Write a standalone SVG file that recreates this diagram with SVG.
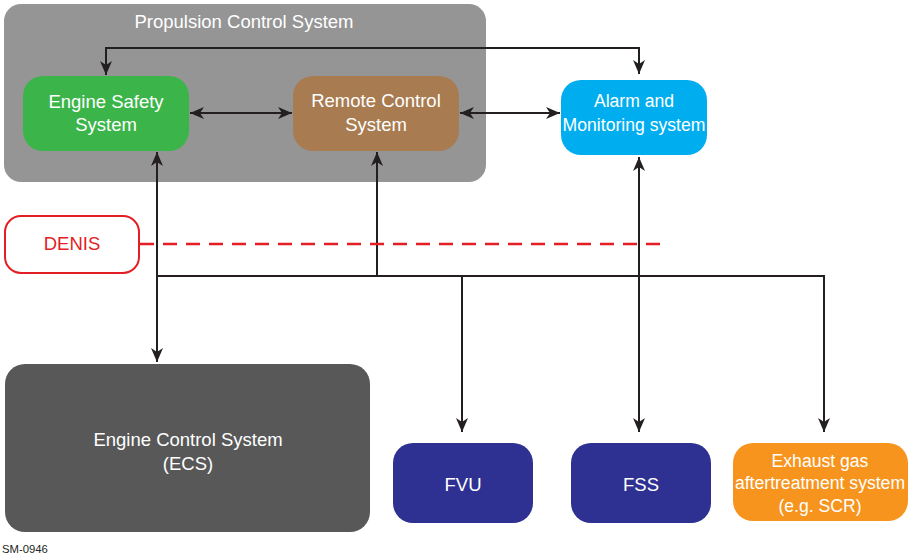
<svg xmlns="http://www.w3.org/2000/svg" width="910" height="556" viewBox="0 0 910 556">
<style>
.t{font-family:"Liberation Sans",Arial,sans-serif;font-size:18.5px;fill:#ffffff;text-anchor:middle}
.s{font-size:17.6px}
.c{fill:none;stroke:#231f20;stroke-width:2}
</style>
<defs>
<marker id="ah" viewBox="0 0 14 12" refX="14" refY="6" markerWidth="14" markerHeight="12" markerUnits="userSpaceOnUse" orient="auto-start-reverse">
<path d="M0,0 L14,6 L0,12 L4,6 z" fill="#231f20"/>
</marker>
</defs>
<rect width="910" height="556" fill="#ffffff"/>
<g id="propulsion">
<rect x="4" y="4" width="482" height="178" rx="17" fill="#959595"/>
<text class="t" x="244" y="28">Propulsion Control System</text>
</g>
<g id="ess">
<rect x="23" y="76" width="166" height="75" rx="20" fill="#3bb54a"/>
<text class="t" x="106" y="108">Engine Safety</text>
<text class="t" x="106" y="131">System</text>
</g>
<g id="rcs">
<rect x="293" y="76" width="166" height="75" rx="20" fill="#a87b50"/>
<text class="t" x="376" y="107">Remote Control</text>
<text class="t" x="376" y="131">System</text>
</g>
<g id="ams">
<rect x="561" y="80" width="146" height="75" rx="20" fill="#00aeef"/>
<text class="t s" x="634" y="107">Alarm and</text>
<text class="t s" x="634" y="131">Monitoring system</text>
</g>
<g id="denis">
<rect x="5" y="216" width="134" height="57" rx="16" fill="#ffffff" stroke="#e31e25" stroke-width="2"/>
<text class="t" x="72" y="250" style="fill:#e31e25">DENIS</text>
</g>
<g id="ecs">
<rect x="5" y="364" width="365" height="168" rx="20" fill="#585858"/>
<text class="t" x="188" y="446">Engine Control System</text>
<text class="t" x="188" y="470">(ECS)</text>
</g>
<g id="fvu">
<rect x="393" y="443" width="140" height="80" rx="20" fill="#2e3192"/>
<text class="t" x="463" y="491">FVU</text>
</g>
<g id="fss">
<rect x="571" y="443" width="140" height="80" rx="20" fill="#2e3192"/>
<text class="t" x="641" y="491">FSS</text>
</g>
<g id="exhaust">
<rect x="733" y="443" width="175" height="78" rx="20" fill="#f7941d"/>
<text class="t s" x="820" y="467">Exhaust gas</text>
<text class="t s" x="820" y="489">aftertreatment system</text>
<text class="t s" x="820" y="512">(e.g. SCR)</text>
</g>
<g id="connectors">
<path class="c" d="M106,75 V48 H639 V74" marker-start="url(#ah)" marker-end="url(#ah)"/>
<path class="c" d="M190,113 H292" marker-start="url(#ah)" marker-end="url(#ah)"/>
<path class="c" d="M460,113 H560" marker-start="url(#ah)" marker-end="url(#ah)"/>
<path class="c" d="M157,152 V362" marker-start="url(#ah)" marker-end="url(#ah)"/>
<path class="c" d="M377,152 V276" marker-start="url(#ah)"/>
<path class="c" d="M157,276 H824 V432" marker-end="url(#ah)"/>
<path class="c" d="M462,276 V432" marker-end="url(#ah)"/>
<path class="c" d="M639,157 V432" marker-start="url(#ah)" marker-end="url(#ah)"/>
<path d="M140,244 H660" fill="none" stroke="#e31e25" stroke-width="2.5" stroke-dasharray="14,9"/>
</g>
<text x="2" y="553" style="font-family:'Liberation Sans',Arial,sans-serif;font-size:11.3px;fill:#231f20">SM-0946</text>
</svg>
